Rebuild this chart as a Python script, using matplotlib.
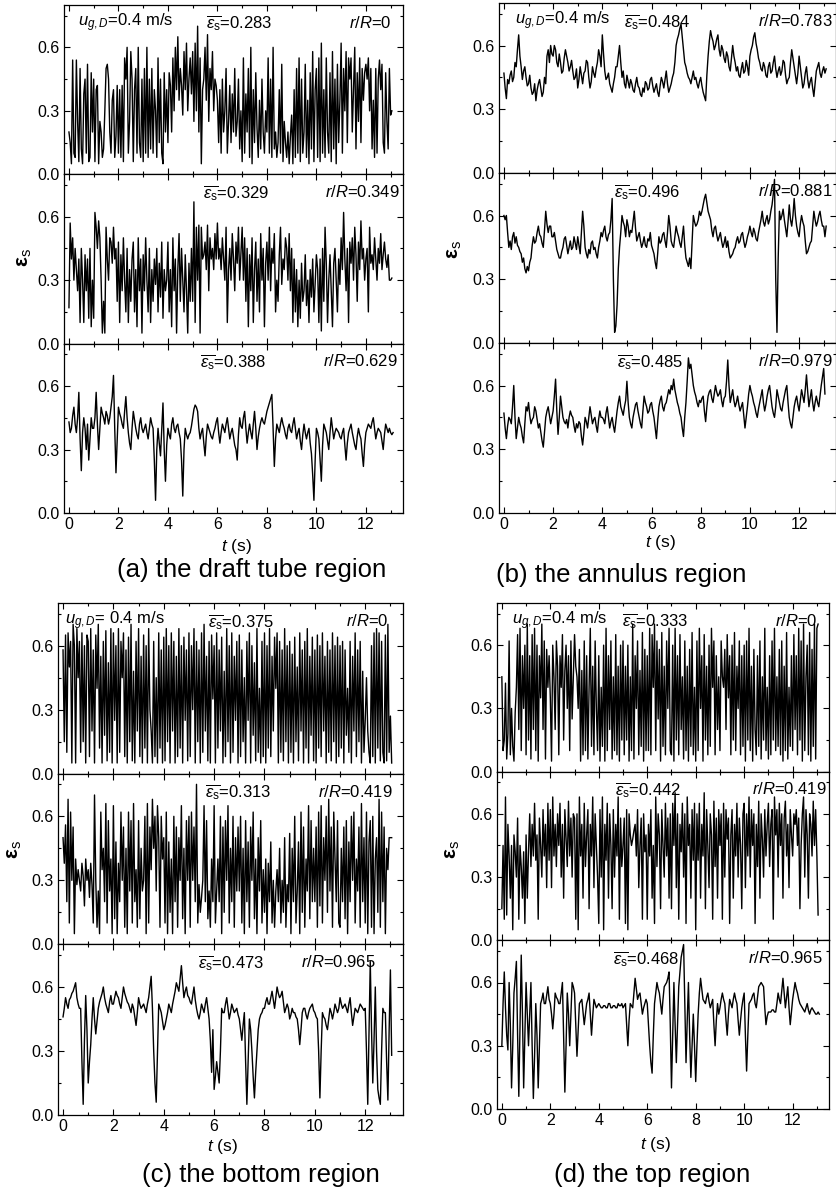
import numpy as np
import matplotlib
matplotlib.use("Agg")
import matplotlib.pyplot as plt
from matplotlib.ticker import MultipleLocator, FormatStrFormatter

plt.rcParams['font.family'] = ['Liberation Sans', 'DejaVu Sans']
plt.rcParams['mathtext.fontset'] = 'custom'
plt.rcParams['mathtext.rm'] = 'Liberation Sans'
plt.rcParams['mathtext.it'] = 'Liberation Sans:italic'
plt.rcParams['mathtext.bf'] = 'Liberation Sans:bold'

# sampling interval of the readings (s)
DT = 0.05

# solids holdup readings, in hundredths (eps_s * 100)
draft_r0 = [20,15,5,54,10,8,54,25,6,50,12,5,38,45,10,52,6,8,48,20,
            45,6,40,42,5,25,20,8,12,30,50,52,45,20,10,35,40,8,18,42,
            10,40,8,42,6,55,45,60,10,25,58,45,6,40,50,10,60,15,8,45,
            6,50,10,60,8,45,12,50,10,40,30,8,55,15,45,10,5,48,20,40,
            15,48,42,20,55,30,60,40,65,35,50,42,28,58,40,62,30,45,55,38,
            58,25,62,30,70,20,55,5,40,45,60,35,66,25,50,40,58,30,45,42,
            35,15,40,10,45,20,30,50,10,25,42,15,38,20,50,18,25,45,12,30,
            6,55,10,38,20,50,8,60,5,40,15,48,22,8,35,12,45,20,10,30,
            20,55,10,45,8,60,12,20,8,15,40,10,52,6,25,15,8,20,5,18,
            28,5,40,8,50,10,55,6,45,10,20,52,8,35,5,48,12,58,6,40,
            50,8,55,6,62,10,40,8,55,20,10,48,6,58,12,45,5,52,15,35,
            62,10,50,30,58,15,55,45,55,20,40,60,12,48,25,55,15,50,35,48,
            52,45,55,30,50,12,35,8,50,10,45,54,40,52,15,10,48,25,12,50,
            28,30]
draft_r349 = [17,57,40,50,30,45,35,25,40,10,45,30,10,42,25,40,12,45,8,30,
              12,62,55,45,58,50,30,5,20,5,55,40,30,50,48,38,55,40,45,20,
              48,10,42,25,50,30,15,45,10,35,20,40,48,15,35,8,50,25,40,5,
              42,25,50,30,15,45,10,35,20,40,28,45,15,38,22,48,12,35,25,30,
              48,15,35,8,50,25,40,5,35,52,20,45,30,15,42,25,5,38,20,45,
              20,67,10,55,30,56,5,55,40,42,48,35,56,25,50,40,45,35,52,40,
              57,40,45,35,50,40,30,55,10,35,45,30,52,40,25,48,38,55,30,42,
              55,30,50,20,45,8,42,25,50,10,35,48,20,40,15,52,30,45,8,38,
              48,30,55,25,45,38,52,15,30,20,42,55,28,40,35,50,45,30,52,25,
              45,10,40,15,35,8,30,12,38,20,25,42,18,30,10,35,22,40,15,28,
              42,35,10,40,6,45,20,55,38,10,30,42,25,8,38,45,30,15,40,28,
              50,35,62,40,25,45,10,48,38,50,30,55,42,20,48,35,58,40,45,30,
              40,45,15,55,38,42,35,50,40,30,45,38,52,35,42,48,40,36,42,30,
              30,31]
draft_r629 = [43,38,40,46,50,42,38,45,57,35,20,38,45,40,30,42,25,35,45,40,
              40,45,57,42,30,40,50,47,45,42,48,46,42,45,50,55,65,40,19,35,
              50,47,45,42,40,48,55,45,38,33,30,40,48,44,40,37,35,42,45,40,
              38,40,42,38,35,40,45,42,40,25,6,30,40,33,27,40,52,30,15,32,
              40,37,35,42,45,40,38,41,42,38,35,25,8,30,40,37,35,37,38,41,
              45,49,51,50,48,40,35,38,40,33,27,36,42,40,38,36,35,38,40,43,
              45,38,33,38,42,40,38,42,45,40,35,38,40,36,32,30,25,37,45,41,
              40,45,48,40,33,38,42,38,35,42,48,40,30,36,40,43,45,43,42,45,
              48,50,52,54,56,40,22,35,42,40,38,42,45,42,40,37,35,40,42,39,
              38,42,45,40,35,38,40,34,30,37,42,38,35,38,40,33,28,18,6,25,
              40,38,35,25,15,32,42,40,38,34,30,38,45,40,35,38,40,39,38,36,
              35,38,40,32,25,33,38,40,42,38,35,32,30,36,40,37,35,28,22,32,
              38,40,42,41,40,43,45,40,35,38,40,39,38,34,30,37,42,40,38,40,
              38,37,38]
annulus_r783 = [47,40,35,44,42,46,48,43,45,52,50,58,65,55,50,44,48,50,45,41,
                42,46,40,37,38,42,34,39,42,44,40,36,38,45,42,55,58,52,60,56,
                55,60,58,52,50,56,52,47,48,54,58,55,52,48,50,53,48,44,45,49,
                40,44,50,46,42,47,48,53,52,45,40,43,50,47,45,49,52,58,55,50,
                65,56,48,44,45,47,42,40,38,42,45,50,50,55,60,52,45,48,42,40,
                46,43,40,44,42,39,38,42,45,41,40,37,36,40,38,43,42,39,40,44,
                45,41,38,40,42,38,36,41,45,43,40,44,48,42,38,40,42,45,47,52,
                60,63,65,68,70,64,58,52,50,47,45,44,42,45,48,44,45,42,40,43,
                45,41,38,36,34,46,55,62,67,64,62,58,60,63,65,58,55,60,58,54,
                52,57,55,50,48,54,60,55,52,48,50,46,45,49,52,47,48,53,50,46,
                55,58,60,64,66,61,58,54,52,49,48,52,50,46,45,50,52,47,48,52,
                55,49,45,48,50,46,48,53,52,46,42,44,45,52,58,54,50,46,42,47,
                55,50,45,40,42,47,50,44,40,43,45,40,36,42,48,50,52,47,45,48,
                50,47,49]
annulus_r881 = [60,58,60,52,45,48,44,50,52,47,50,46,45,43,42,38,40,35,33,36,
                34,38,40,46,50,47,48,52,55,51,50,47,45,53,62,56,52,55,55,50,
                50,52,48,44,42,40,40,43,45,49,50,46,42,45,48,44,45,50,47,44,
                50,46,42,52,62,55,45,42,40,44,42,47,48,44,45,42,40,45,48,52,
                50,53,55,50,48,51,52,58,68,30,5,8,18,35,45,52,60,57,55,50,
                58,55,50,53,52,57,62,54,48,50,52,48,45,47,50,46,45,49,48,52,
                46,44,42,38,35,42,50,47,48,51,52,48,45,52,60,55,48,46,45,50,
                55,52,50,47,45,50,55,46,40,38,36,40,35,48,60,57,55,56,58,62,
                60,62,65,68,70,66,62,60,58,53,50,54,55,51,48,50,52,48,45,47,
                50,45,48,43,40,41,42,44,45,48,50,47,48,51,52,48,45,47,50,52,
                55,52,50,54,52,49,48,52,55,58,62,57,55,58,60,56,58,62,65,70,
                77,30,5,40,62,58,60,63,58,54,50,57,65,58,55,60,68,60,55,52,
                50,56,60,57,55,48,42,43,45,47,48,55,62,58,55,57,60,62,58,55,
                55,50,55]
annulus_r979 = [47,40,35,41,45,44,42,50,60,45,35,40,45,42,40,36,33,42,50,48,
                52,46,42,44,45,50,48,44,40,42,38,34,31,38,45,48,50,46,42,45,
                48,55,63,48,37,45,55,50,45,43,42,44,40,45,48,46,45,41,38,42,
                40,43,42,36,32,38,45,43,40,45,50,46,42,44,45,41,38,44,48,45,
                45,44,42,47,50,45,40,43,45,41,38,43,48,52,55,50,48,46,50,53,
                62,52,45,42,40,45,48,51,52,48,45,42,40,48,55,52,50,47,48,51,
                52,48,45,40,35,43,50,53,55,50,48,51,52,55,58,56,60,58,63,58,
                55,52,50,47,45,40,36,45,52,62,73,68,70,65,60,57,55,52,50,53,
                52,54,55,48,43,50,55,57,58,54,52,56,60,57,55,56,58,53,50,54,
                55,62,72,60,52,55,58,53,50,52,55,51,48,50,52,46,40,45,50,56,
                60,57,55,52,50,47,45,49,52,55,58,52,48,51,55,58,60,55,50,47,
                45,50,58,55,52,49,48,52,55,58,60,52,45,42,40,45,50,53,55,51,
                48,53,58,55,52,58,65,57,50,54,58,52,48,52,55,52,50,55,60,64,
                68,56]
bottom_r0 = [58,15,65,10,66,50,62,5,70,60,5,68,45,62,10,66,15,60,5,65,
             62,8,68,20,58,5,65,40,70,12,55,5,62,18,67,6,52,10,68,5,
             66,25,60,5,68,10,62,45,66,8,58,5,64,15,70,6,48,5,62,20,
             68,8,55,5,65,12,60,5,68,30,20,5,62,8,45,5,66,12,58,5,
             64,6,68,15,60,5,66,20,62,5,55,8,68,12,60,5,64,25,58,6,
             66,8,60,30,68,5,62,15,58,5,66,10,70,20,55,6,62,5,65,35,
             60,5,66,12,58,20,64,5,48,8,68,15,60,5,66,10,55,25,62,5,
             65,8,58,15,45,5,62,25,66,5,60,18,52,6,68,10,40,5,62,8,
             66,5,60,12,68,8,55,20,64,40,66,5,62,10,58,6,68,15,60,5,
             62,10,56,5,64,15,50,6,66,20,58,5,62,12,68,5,55,18,64,6,
             58,5,65,12,60,8,66,20,55,5,62,10,58,6,66,15,60,5,64,8,
             60,12,62,5,58,18,40,10,62,5,55,20,66,8,58,15,62,5,48,10,
             25,45,20,10,5,60,8,66,5,68,12,66,6,62,10,5,65,6,70,10,
             27,5]
bottom_r419 = [50,38,56,20,68,10,62,30,55,5,40,28,35,30,25,38,32,18,40,30,
               35,22,38,28,10,70,30,8,25,5,62,35,45,20,66,10,58,25,40,5,
               65,12,48,5,38,20,62,30,55,8,45,5,62,25,58,10,66,20,35,8,
               58,12,45,25,30,60,5,66,10,55,35,68,45,60,25,65,50,8,60,40,
               50,10,62,5,48,15,40,5,60,20,55,8,50,30,65,12,45,5,58,30,
               60,8,62,30,55,20,75,10,28,15,22,30,65,20,58,12,25,8,40,20,
               65,10,25,40,20,60,5,55,15,58,30,65,10,45,20,60,8,50,25,55,
               25,60,10,45,5,58,20,48,8,55,30,62,12,40,5,50,25,58,10,35,
               15,40,5,38,20,48,10,30,8,25,35,20,45,10,30,15,50,8,28,20,
               52,5,45,20,60,10,25,48,5,62,15,55,8,40,25,65,12,58,20,45,
               20,55,8,62,18,65,10,50,30,60,15,68,25,55,8,62,40,20,58,10,
               8,45,20,55,12,58,5,48,20,60,30,62,10,40,25,55,8,66,20,50,
               10,62,5,48,58,8,60,5,40,50,15,68,8,62,20,55,5,45,35,50,
               50,50]
bottom_r965 = [46,50,55,52,50,54,55,57,58,60,62,55,52,50,50,25,5,35,56,40,
               15,25,33,45,55,45,38,44,50,53,55,57,60,55,52,50,48,53,56,52,
               52,55,58,56,55,52,50,55,60,57,55,53,52,50,48,52,50,46,42,48,
               55,52,50,51,52,50,48,52,55,60,65,50,30,15,6,30,52,50,48,44,
               40,42,45,48,52,50,48,52,55,58,62,60,58,64,70,62,55,58,60,56,
               55,53,52,56,60,54,50,47,45,48,52,50,48,52,55,50,45,35,20,40,
               12,18,25,20,15,30,50,48,48,52,55,50,45,48,52,50,48,49,50,47,
               45,40,35,42,48,25,5,25,45,40,30,18,8,20,30,40,45,47,48,50,
               50,53,55,52,52,55,58,54,50,55,60,57,55,56,58,53,48,50,52,50,
               45,47,50,48,48,46,45,40,33,40,48,50,50,47,45,48,50,51,52,49,
               48,46,45,30,8,30,48,46,45,42,40,45,50,48,45,48,52,50,48,50,
               55,52,50,51,52,50,48,52,55,48,42,46,50,49,48,50,52,51,50,49,
               50,30,5,40,72,40,15,35,60,30,12,8,5,30,50,48,48,25,7,40,
               68,28]
top_r0 = [45,10,15,42,6,18,62,8,30,12,5,28,40,65,20,68,10,55,30,60,
          8,70,15,55,6,65,20,68,10,60,5,55,35,70,20,62,6,58,40,55,
          35,5,60,45,20,62,50,8,55,40,65,15,48,60,30,55,10,62,25,45,
          65,50,45,30,58,5,48,8,62,10,55,6,40,68,12,50,8,62,30,10,
          55,5,40,12,60,5,68,10,55,20,62,6,45,10,65,8,50,5,60,15,
          62,8,50,15,60,5,45,10,70,6,55,30,62,8,48,12,66,5,58,10,
          55,10,68,8,65,40,70,10,62,25,58,5,66,12,50,8,62,30,68,10,
          8,60,5,68,15,55,8,65,20,45,6,62,10,50,5,58,12,66,8,40,
          5,62,10,68,30,55,5,65,15,50,8,60,12,68,40,62,8,55,20,45,
          10,62,45,40,58,20,65,35,55,8,60,15,66,10,50,30,62,8,55,12,
          60,5,62,15,68,10,50,5,58,20,8,55,12,62,6,45,15,68,10,40,
          6,55,8,62,15,68,10,45,12,58,8,62,5,50,10,66,6,40,12,55,
          10,65,20,55,8,68,15,62,5,70,10,45,60,8,66,5,58,12,70,6,
          68,70]
top_r419 = [15,45,10,68,12,55,40,20,45,5,50,42,30,58,10,45,35,20,42,8,
            50,20,42,60,35,55,40,65,38,50,10,58,45,30,62,40,55,25,65,38,
            62,25,68,40,55,35,60,45,65,30,55,20,62,48,35,66,40,58,30,60,
            58,10,60,5,68,40,55,20,65,35,50,62,15,55,40,68,25,60,45,30,
            8,62,30,68,5,55,38,65,20,60,45,15,62,30,55,40,68,10,58,35,
            45,58,8,62,5,60,50,45,48,52,55,40,62,25,45,58,10,60,42,50,
            10,55,40,62,20,45,8,68,35,60,50,15,62,45,30,65,40,58,20,60,
            15,65,45,70,25,60,10,55,42,65,30,60,8,68,45,55,20,62,38,65,
            5,60,38,65,20,55,40,70,15,62,45,25,60,50,10,66,35,58,20,62,
            45,60,10,65,30,62,48,58,8,50,62,20,55,40,65,30,58,45,15,60,
            65,25,60,40,68,30,62,45,60,8,55,35,66,20,60,48,30,62,40,55,
            65,35,55,62,10,68,50,62,30,65,45,60,20,58,66,40,55,25,62,50,
            40,60,55,62,45,58,15,45,60,68,30,62,50,20,60,55,40,66,45,62,
            40,12]
top_r965 = [30,50,65,48,35,28,60,40,10,30,55,62,70,35,6,40,73,45,10,35,
            60,45,30,45,60,30,5,25,50,35,10,30,50,52,55,50,50,54,58,52,
            50,45,38,45,55,53,52,50,50,55,60,35,8,30,55,45,30,45,60,58,
            55,40,25,38,50,51,52,46,40,45,50,52,55,45,35,44,52,50,48,49,
            50,49,48,48,49,49,48,48,50,50,48,48,49,49,48,48,50,49,49,50,
            48,49,50,40,30,42,50,49,48,55,62,57,52,54,55,50,45,48,50,52,
            50,40,30,22,17,35,50,55,60,57,55,50,45,52,58,59,60,62,65,40,
            10,35,60,40,22,40,58,65,72,75,78,50,22,42,60,35,15,30,45,30,
            13,30,45,55,62,57,52,51,50,53,55,51,48,50,52,40,30,42,50,45,
            48,52,55,52,50,42,35,45,52,50,48,52,55,52,50,42,35,42,48,52,
            55,35,18,35,50,51,52,54,55,50,48,53,58,59,60,59,58,48,40,44,
            46,46,46,47,47,46,46,50,55,52,50,56,62,55,48,53,58,48,40,46,
            52,56,60,57,55,52,50,49,48,47,46,48,50,47,45,47,48,47,46,45,
            45,46,45]

series_a = [draft_r0, draft_r349, draft_r629]
series_b = [annulus_r783, annulus_r881, annulus_r979]
series_c = [bottom_r0, bottom_r419, bottom_r965]
series_d = [top_r0, top_r419, top_r965]

radial_a = ['0', '0.349', '0.629']
radial_b = ['0.783', '0.881', '0.979']
radial_c = ['0', '0.419', '0.965']
radial_d = ['0', '0.419', '0.965']

mean_a = ['0.283', '0.329', '0.388']
mean_b = ['0.484', '0.496', '0.485']
mean_c = ['0.375', '0.313', '0.473']
mean_d = ['0.333', '0.442', '0.468']

ug_text = [r'$u_{g,D}$=0.4 m/s', r'$u_{g,D}$=0.4 m/s', r'$u_{g,D}$= 0.4 m/s', r'$u_{g,D}$=0.4 m/s']
captions = ['(a) the draft tube region', '(b) the annulus region',
            '(c) the bottom region', '(d) the top region']

W, H = 837, 1189
fig = plt.figure(figsize=(W / 100, H / 100), dpi=100)

# layout in pixels: left, right, top, bottom
boxes = [(64, 403, 5, 513), (499, 836, 3, 513), (58, 403, 603, 1115), (497, 829, 603, 1109)]
mean_x = [[0.42, 0.41, 0.40], [0.37, 0.34, 0.35], [0.435, 0.426, 0.406], [0.376, 0.355, 0.35]]
rr_x = [[0.967, 0.99, 0.985], [0.99, 0.99, 0.99], [0.957, 0.97, 0.92], [0.964, 0.992, 0.98]]
ug_x = [0.04, 0.047, 0.02, 0.045]
cap_xy = [(252, 570), (621, 575), (261, 1175), (652, 1175)]
tlab_xy = [(236, 547), (660, 543), (222, 1147), (655, 1145)]
ylab_xy = [(25, 258), (455, 250), (15, 850), (453, 850)]

all_series = [series_a, series_b, series_c, series_d]
all_radial = [radial_a, radial_b, radial_c, radial_d]
all_mean = [mean_a, mean_b, mean_c, mean_d]

FS_TICK = 11.5
FS_ANN = 12
for p in range(4):
    L, R, T, B = boxes[p]
    h = (B - T) / 3
    for k in range(3):
        top = T + k * h
        ax = fig.add_axes([L / W, 1 - (top + h) / H, (R - L) / W, h / H])
        vals = np.array(all_series[p][k]) / 100.0
        t = np.arange(len(vals)) * DT
        ax.plot(t, vals, color='black', lw=1.0)
        ax.set_xlim(-0.2, 13.5)
        ax.set_ylim(0, 0.8)
        ax.xaxis.set_major_locator(MultipleLocator(2))
        ax.xaxis.set_minor_locator(MultipleLocator(1))
        ax.yaxis.set_major_locator(MultipleLocator(0.3))
        ax.yaxis.set_minor_locator(MultipleLocator(0.15))
        ax.yaxis.set_major_formatter(FormatStrFormatter('%.1f'))
        ax.tick_params(which='both', direction='in', top=True, right=True,
                       labelsize=FS_TICK, width=0.8, pad=3)
        ax.tick_params(which='major', length=4)
        ax.tick_params(which='minor', length=2.5)
        for s in ax.spines.values():
            s.set_linewidth(0.9)
        if k < 2:
            ax.tick_params(labelbottom=False)
        if k == 0:
            ax.text(ug_x[p], 0.895, ug_text[p], transform=ax.transAxes, fontsize=FS_ANN,
                    va='center', ha='left')
        ax.text(mean_x[p][k], 0.89, r'$\overline{ε_{\rm s}}$=' + all_mean[p][k],
                transform=ax.transAxes, fontsize=FS_ANN, va='center', ha='left')
        ax.text(rr_x[p][k], 0.895, r'$r/R$=' + all_radial[p][k],
                transform=ax.transAxes, fontsize=FS_ANN, va='center', ha='right')
    fig.text(cap_xy[p][0] / W, 1 - cap_xy[p][1] / H, captions[p], fontsize=18.5,
             ha='center', va='center')
    fig.text(tlab_xy[p][0] / W, 1 - tlab_xy[p][1] / H, r'$t$ (s)', fontsize=12.5,
             ha='center', va='center')
    fig.text(ylab_xy[p][0] / W, 1 - ylab_xy[p][1] / H, r'$\mathbf{ε}_{\rm s}$', fontsize=15,
             ha='center', va='center', rotation=90)

fig.savefig('out.png', dpi=100)
